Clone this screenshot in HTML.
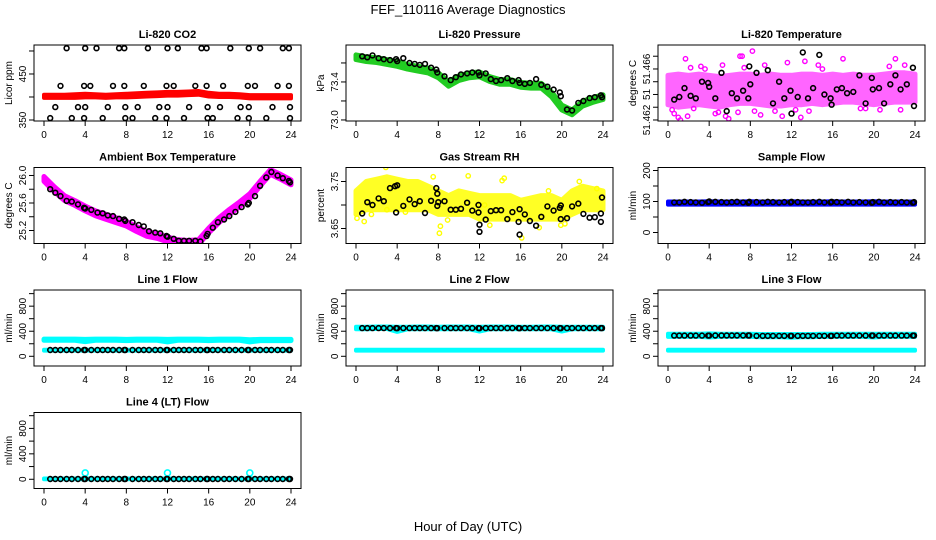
<!DOCTYPE html>
<html><head><meta charset="utf-8">
<style>
body{margin:0;background:#fff;}
svg{display:block;font-family:"Liberation Sans",Arial,sans-serif;}
</style></head>
<body>
<svg id="c" width="936" height="540" viewBox="0 0 936 540">
<text x="468" y="14" text-anchor="middle" font-size="13">FEF_110116  Average Diagnostics</text>
<text x="468" y="531" text-anchor="middle" font-size="13">Hour of Day (UTC)</text>
</svg>
<script>
// ---- data ----
const hours=[0,1,2,3,4,5,6,7,8,9,10,11,12,13,14,15,16,17,18,19,20,21,22,23,24];
const xTicks=[0,4,8,12,16,20,24];
const blackT=[0.6,1.1,1.6,2.2,2.7,3.3,3.9,4,4.6,5.2,5.7,6.2,6.7,7.3,7.8,7.9,8.6,9.2,9.7,10.2,10.8,11.3,11.9,12,12.6,13.1,13.6,14.1,14.7,15.2,15.8,15.9,16.4,16.9,17.5,18,18.6,19.2,19.8,19.9,20.5,21,21.6,22.1,22.7,23.2,23.8,23.9];

// CO2
const co2Lo=[398,398,398,398,399,399,398,399,399,400,401,402,403,403,404,405,401,400,400,399,397,397,397,397,397];
const co2Hi=[405,405,405,406,407,406,405,406,407,408,409,410,411,411,412,413,409,407,407,406,404,404,404,404,404];
const co2TopT=[2.2,4,5.1,7.3,7.8,10.1,12,13,15.3,15.8,18.1,19.9,21,23.2,23.8];
const co2HiT=[1.6,3.9,4.5,6.7,7.8,9.7,11.9,12.6,14.7,15.8,17.4,19.8,20.5,22.7,23.8];
const co2MidT=[1.1,3.3,4,6.2,7.9,9.1,11.2,12,14.1,15.9,17.1,19.1,19.9,22.2,23.9];
const co2LowT=[0.6,2.7,3.9,5.7,7.9,8.6,10.8,11.9,13.6,15.9,16.4,18.8,19.9,21.6,23.9];
const co2Levels=[506,424,378,354];

// Pressure
const presMid=[73.66,73.64,73.63,73.61,73.59,73.56,73.54,73.52,73.47,73.38,73.44,73.47,73.48,73.43,73.40,73.40,73.37,73.36,73.36,73.27,73.13,73.08,73.17,73.21,73.24];
const presBlack=[73.67,73.66,73.68,73.65,73.64,73.63,73.64,73.62,73.65,73.60,73.59,73.58,73.59,73.55,73.53,73.50,73.46,73.42,73.45,73.48,73.49,73.50,73.50,73.47,73.49,73.43,73.41,73.42,73.44,73.41,73.42,73.39,73.38,73.39,73.43,73.37,73.35,73.32,73.29,73.25,73.11,73.10,73.18,73.20,73.23,73.24,73.26,73.24];

// Li-820 temperature
const ltLo=[51.4632,51.4630,51.4631,51.4632,51.4631,51.4630,51.4632,51.4633,51.4633,51.4632,51.4631,51.4631,51.4632,51.4632,51.4633,51.4632,51.4633,51.4634,51.4634,51.4633,51.4632,51.4633,51.4634,51.4634,51.4634];
const ltHi=[51.4655,51.4656,51.4655,51.4656,51.4655,51.4654,51.4655,51.4656,51.4656,51.4655,51.4656,51.4655,51.4655,51.4656,51.4656,51.4655,51.4656,51.4655,51.4656,51.4655,51.4655,51.4656,51.4657,51.4657,51.4656];
const ltExtraT=[0.4,0.6,1.0,1.2,1.7,1.9,2.2,2.5,3.2,3.6,4.6,4.9,5.3,5.6,5.9,6.8,7.0,7.2,7.4,8.2,8.4,9.0,9.4,10.4,11.1,11.6,12.4,12.9,13.3,13.7,14.6,15.0,17.0,18.7,19.2,20.6,21.5,22.1,22.6,23.0];
const ltExtraV=[51.4628,51.4625,51.4622,51.4620,51.4668,51.4623,51.4661,51.4629,51.4662,51.4660,51.4625,51.4626,51.4663,51.4623,51.4621,51.4626,51.4670,51.4670,51.4661,51.4674,51.4627,51.4624,51.4663,51.4627,51.4623,51.4665,51.4628,51.4622,51.4666,51.4627,51.4663,51.4660,51.4668,51.4629,51.4629,51.4628,51.4662,51.4668,51.4628,51.4663];
const ltBlackT=[0.6,1.1,1.6,2.2,2.7,3.3,3.9,4,4.6,5.2,5.7,6.2,6.7,7.3,7.8,7.9,8,8.6,9.7,10.2,10.8,11.3,11.9,12,12.6,13.1,13.6,14.1,14.7,15.2,15.8,15.9,16.4,16.9,17.4,18,18.6,19.2,19.8,19.9,20.5,21,21.6,22.1,22.6,23.2,23.8,23.9];
const ltBlackV=[51.4636,51.4638,51.4645,51.4639,51.4637,51.4650,51.4649,51.4646,51.4637,51.4657,51.4627,51.4641,51.4637,51.4643,51.4637,51.4662,51.4648,51.4657,51.4659,51.4633,51.4650,51.4637,51.4643,51.4625,51.4638,51.4673,51.4637,51.4645,51.4671,51.4640,51.4637,51.4632,51.4644,51.4645,51.4641,51.4642,51.4655,51.4633,51.4653,51.4644,51.4645,51.4633,51.4648,51.4655,51.4644,51.4648,51.4661,51.4631];

// Ambient box temperature
const ambMid=[25.95,25.80,25.67,25.60,25.52,25.45,25.40,25.35,25.30,25.22,25.15,25.12,25.07,25.03,25.02,25.03,25.20,25.35,25.47,25.58,25.70,25.88,26.05,25.98,25.90];
const ambBlack=[25.80,25.75,25.70,25.63,25.62,25.58,25.53,25.52,25.50,25.46,25.45,25.42,25.41,25.37,25.36,25.34,25.32,25.28,25.26,25.19,25.17,25.16,25.12,25.11,25.08,25.05,25.05,25.05,25.05,25.04,25.12,25.15,25.24,25.32,25.36,25.41,25.47,25.54,25.58,25.60,25.70,25.85,25.97,26.05,26.00,25.96,25.92,25.90];

// Gas stream RH
const rhLo=[3.68,3.69,3.69,3.69,3.69,3.69,3.69,3.69,3.68,3.68,3.68,3.68,3.67,3.67,3.67,3.67,3.67,3.67,3.67,3.67,3.67,3.68,3.69,3.69,3.69];
const rhHi=[3.73,3.75,3.755,3.76,3.755,3.75,3.75,3.74,3.73,3.72,3.73,3.725,3.72,3.72,3.72,3.72,3.71,3.715,3.72,3.72,3.71,3.73,3.74,3.735,3.73];
const rhExtraT=[0.1,0.8,1.5,2.9,3.0,4.8,7.5,8.1,8.2,8.9,10.9,12.5,13.0,14.2,14.4,16.1,17.8,18.7,19.9,20.3,21.7,23.4];
const rhExtraV=[3.672,3.665,3.680,3.780,3.690,3.685,3.760,3.640,3.655,3.668,3.762,3.700,3.657,3.752,3.757,3.630,3.652,3.730,3.657,3.660,3.750,3.735];
const rhBlackT=[0.6,1.1,1.6,2.2,2.7,3.3,3.8,3.9,4,4.6,5.2,5.7,6.2,6.7,7.3,7.8,7.9,7.9,8,8.6,9.2,9.7,10.2,10.8,11.3,11.9,11.9,12,12,12.6,13.1,13.6,14.1,14.7,15.2,15.8,15.9,15.9,16.4,16.9,17.5,18,18.6,19.2,19.8,19.9,19.9,20.5,21,21.6,22.1,22.7,23.2,23.8,23.8,23.9];
const rhBlackV=[3.682,3.706,3.700,3.714,3.708,3.736,3.740,3.684,3.742,3.698,3.712,3.702,3.708,3.683,3.709,3.736,3.724,3.698,3.706,3.708,3.690,3.690,3.692,3.705,3.688,3.700,3.684,3.658,3.643,3.669,3.687,3.689,3.689,3.670,3.685,3.664,3.691,3.637,3.680,3.666,3.656,3.675,3.697,3.688,3.694,3.670,3.699,3.672,3.697,3.703,3.681,3.673,3.674,3.682,3.664,3.716];

// Flows (mL/min)
const sfLo=[90,90,90,90,90,90,90,90,90,90,90,90,90,90,90,90,90,90,90,90,90,90,90,90,90];
const sfHi=[100,100,100,100,101,100,100,100,101,100,100,100,101,100,100,100,101,100,100,100,101,100,100,100,100];
const sfBlack=[97,97,99,98,97,96,98,100,99,98,97,98,99,97,96,99,98,97,99,98,97,98,97,99,98,97,97,98,99,97,97,99,98,97,99,97,98,97,96,98,99,97,98,97,98,97,96,98];
const l1CyanHi=[275,275,275,275,270,275,275,275,270,275,275,275,270,275,275,275,270,275,275,275,265,270,270,270,270];
const l1CyanLo=[255,255,255,255,235,255,255,255,250,255,255,255,230,255,255,255,250,255,255,255,230,250,250,250,250];
const l1Black=[100,100,100,100,100,100,100,100,100,100,100,100,100,100,100,100,100,100,100,100,100,100,100,100,100,100,100,100,100,100,100,100,100,100,100,100,100,100,100,100,100,100,100,100,100,100,100,100];
const l2CyanHi=[470,470,475,475,470,470,475,475,470,475,475,475,470,475,475,475,470,470,475,475,470,470,470,470,470];
const l2CyanLo=[430,430,435,435,390,430,430,430,430,430,430,430,395,430,430,430,430,430,430,430,395,430,430,430,430];
const l2Black=[450,450,450,450,450,450,450,448,450,450,450,450,450,450,450,448,450,450,450,450,450,450,450,448,450,450,450,450,450,450,450,448,450,450,450,450,450,450,450,448,450,450,450,450,450,450,450,450];
const l3CyanHi=[360,360,360,360,365,360,360,360,360,355,355,355,355,355,355,360,360,360,360,360,360,360,360,360,360];
const l3CyanLo=[310,310,310,310,300,310,310,310,310,305,305,305,295,305,305,310,310,310,310,310,300,310,310,310,310];
const l3Black=[330,330,330,330,330,330,330,330,332,332,332,332,332,332,332,332,325,325,325,325,325,325,325,325,325,325,325,325,325,325,325,325,330,330,330,330,330,330,330,330,330,330,330,330,330,330,330,330];
const lowCyanHi=[105,105,105,105,105,105,105,105,105,105,105,105,105,105,105,105,105,105,105,105,105,105,105,105,105];
const lowCyanLo=[90,90,90,90,90,90,90,90,90,90,90,90,90,90,90,90,90,90,90,90,90,90,90,90,90];
const l4Black=[5,5,5,5,5,5,5,5,5,5,5,5,5,5,5,5,5,5,5,5,5,5,5,5,5,5,5,5,5,5,5,5,5,5,5,5,5,5,5,5,5,5,5,5,5,5,5,5];
const l4SpikeT=[4,12,20];
const l4SpikeV=[100,100,100];
const l4CyanHi=[12,12,12,12,12,12,12,12,12,12,12,12,12,12,12,12,12,12,12,12,12,12,12,12,12];
const l4CyanLo=[0,0,0,0,0,0,0,0,0,0,0,0,0,0,0,0,0,0,0,0,0,0,0,0,0];

// ---- drawing ----
const svg=document.getElementById('c');
const NS='http://www.w3.org/2000/svg';
function mk(tag,attrs,parent){const e=document.createElementNS(NS,tag);for(const k in attrs)e.setAttribute(k,attrs[k]);(parent||svg).appendChild(e);return e;}
const colL=[34,346,658], rowT=[45,167.5,290,412.5], W=267, H=76;

function panel(name,col,row,title,ylab,ymin,ymax,yticks,ylabels){
  const L=colL[col], T=rowT[row];
  const g=mk('g',{});
  
  
  const X=t=>L+10+t/24*(W-20);
  const Y=v=>T+H-(v-ymin)/(ymax-ymin)*H;
  const tt=mk('text',{x:L+W/2,y:T-7,'text-anchor':'middle','font-size':11,'font-weight':'bold'},g);
  tt.textContent=title;
  
  
  const yl=mk('text',{transform:`translate(${L-22},${T+H/2}) rotate(-90)`,'text-anchor':'middle','font-size':10},g);
  yl.textContent=ylab;
  
  
  yticks.forEach((v,i)=>{
    const y=Y(v);
    mk('line',{x1:L-5,x2:L,y1:y,y2:y,stroke:'#000','stroke-width':1},g);
    if(ylabels[i]){
      const t=mk('text',{transform:`translate(${L-8},${y}) rotate(-90)`,'text-anchor':'middle','font-size':10},g);
      t.textContent=ylabels[i];
      
      
    }
  });
  xTicks.forEach(v=>{
    const x=X(v);
    mk('line',{x1:x,x2:x,y1:T+H,y2:T+H+5,stroke:'#000','stroke-width':1},g);
    const t=mk('text',{x:x,y:T+H+17,'text-anchor':'middle','font-size':10},g);
    t.textContent=v;
    
    
  });
  const plot=mk('g',{},g);
  const clip='clip-'+name;
  const cp=mk('clipPath',{id:clip},g);
  mk('rect',{x:L,y:T,width:W,height:H},cp);
  plot.setAttribute('clip-path','url(#'+clip+')');
  const box=mk('rect',{x:L,y:T,width:W,height:H,fill:'none',stroke:'#000','stroke-width':1},g);
  
  
  return {X,Y,plot,name};
}
function band(p,lo,hi,color,sw,op){
  let d='';
  hours.forEach((h,i)=>{d+=(i?'L':'M')+p.X(h).toFixed(1)+','+p.Y(hi[i]).toFixed(1);});
  for(let i=hours.length-1;i>=0;i--)d+='L'+p.X(hours[i]).toFixed(1)+','+p.Y(lo[i]).toFixed(1);
  const e=mk('path',{d:d+'Z',fill:color,stroke:color,'stroke-width':sw||4,'stroke-linejoin':'round',opacity:op||1},p.plot);
  
  
}
function dots(p,ts,vs,color,r,cls,sw){
  ts.forEach((t,i)=>{
    const v=Array.isArray(vs)?vs[i]:vs;
    const e=mk('circle',{cx:p.X(t).toFixed(1),cy:p.Y(v).toFixed(1),r:r||2.4,fill:'none',stroke:color,'stroke-width':sw||1.6},p.plot);
    
    
  });
}

// CO2
let p=panel('co2',0,0,'Li-820 CO2','Licor ppm',347.8,513,[350,400,450,500],['350','','450','']);
band(p,co2Lo,co2Hi,'#ff0000',4);
dots(p,co2TopT,co2Levels[0],'#000',2.4,'avg-point');
dots(p,co2HiT,co2Levels[1],'#000',2.4,'avg-point');
dots(p,co2MidT,co2Levels[2],'#000',2.4,'avg-point');
dots(p,co2LowT,co2Levels[3],'#000',2.4,'avg-point');

// Pressure
p=panel('pressure',1,0,'Li-820 Pressure','kPa',72.989,73.789,[73.0,73.2,73.4,73.6],['73.0','','73.4','']);
band(p,presMid.map(v=>v-0.025),presMid.map(v=>v+0.025),'#22cc22',5);
dots(p,blackT,presBlack,'#000',2.4,'avg-point');

// Li-820 temperature
p=panel('li820-temp',2,0,'Li-820 Temperature','degrees C',51.46192,51.46788,[51.462,51.463,51.464,51.465,51.466,51.467],['51.462','','51','','51.466','']);
band(p,ltLo,ltHi,'#ff00ff',5,0.6);
dots(p,ltExtraT,ltExtraV,'#ff00ff',2.2,'raw-point',1.4);
dots(p,ltBlackT,ltBlackV,'#000',2.4,'avg-point');

// Ambient box temperature
p=panel('ambient-temp',0,1,'Ambient Box Temperature','degrees C',25.011,26.116,[25.2,25.4,25.6,25.8,26.0],['25.2','','25.6','','26.0']);
band(p,ambMid.map(v=>v-0.035),ambMid.map(v=>v+0.035),'#ff00ff',5);
dots(p,blackT,ambBlack,'#000',2.4,'avg-point');

// RH
p=panel('gas-rh',1,1,'Gas Stream RH','percent',3.6181,3.7798,[3.65,3.70,3.75],['3.65','','3.75']);
band(p,rhLo,rhHi,'#ffff00',5,0.85);
dots(p,rhExtraT,rhExtraV,'#ffff00',2.2,'raw-point',1.4);
dots(p,rhBlackT,rhBlackV,'#000',2.4,'avg-point');

// Sample flow
p=panel('sample-flow',2,1,'Sample Flow','ml/min',-35.5,209.7,[0,50,100,150,200],['0','','100','','200']);
band(p,sfLo,sfHi,'#0000ff',4);
dots(p,blackT,sfBlack,'#000',2.4,'avg-point');

const fT=[0,200,400,600,800,1000], fL=['0','','400','','800',''];
p=panel('line1-flow',0,2,'Line 1 Flow','ml/min',-155,1058,fT,fL);
band(p,l1CyanLo,l1CyanHi,'#00ffff',5);
band(p,lowCyanLo,lowCyanHi,'#00ffff',4);
dots(p,blackT,l1Black,'#000',2.4,'avg-point');

p=panel('line2-flow',1,2,'Line 2 Flow','ml/min',-155,1058,fT,fL);
band(p,l2CyanLo,l2CyanHi,'#00ffff',4);
band(p,lowCyanLo,lowCyanHi,'#00ffff',4);
dots(p,blackT,l2Black,'#000',2.4,'avg-point');

p=panel('line3-flow',2,2,'Line 3 Flow','ml/min',-155,1058,fT,fL);
band(p,l3CyanLo,l3CyanHi,'#00ffff',4);
band(p,lowCyanLo,lowCyanHi,'#00ffff',4);
dots(p,blackT,l3Black,'#000',2.4,'avg-point');

p=panel('line4-flow',0,3,'Line 4 (LT) Flow','ml/min',-145,1050,fT,fL);
band(p,l4CyanLo,l4CyanHi,'#00ffff',4);
dots(p,l4SpikeT,l4SpikeV,'#00ffff',3,'spike-point');
dots(p,blackT,l4Black,'#000',2.4,'avg-point');
</script>
</body></html>
